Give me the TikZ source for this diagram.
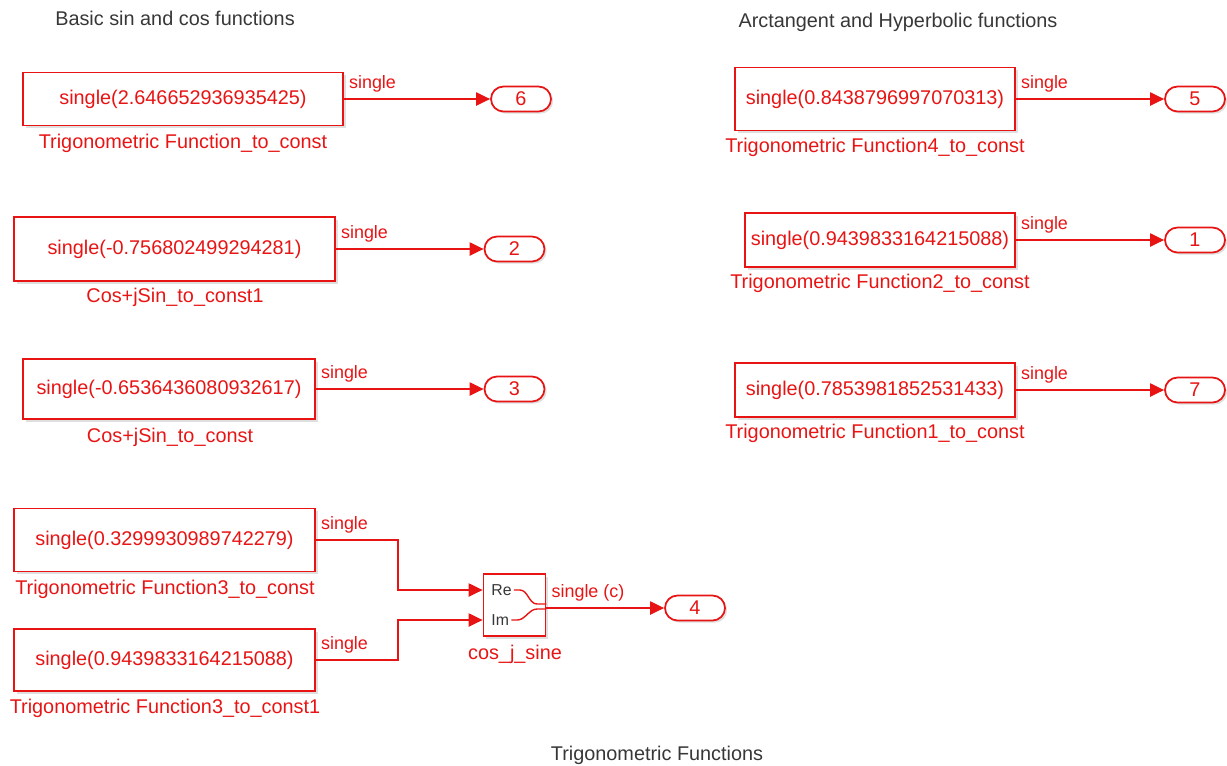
\documentclass[tikz,border=0pt]{standalone}
\usepackage{fontspec}
\setmainfont{Liberation Sans}
\usetikzlibrary{arrows.meta,shapes.misc,shadows}
\definecolor{simred}{RGB}{232,20,20}
\definecolor{titlegray}{RGB}{55,55,55}

\begin{document}
\begin{tikzpicture}[
    x=0.02cm, y=-0.02cm,
    >={Triangle[length=8pt,width=7.5pt]},
    const/.style={
        draw=simred,
        line width=1pt,
        fill=white,
        text=simred,
        inner sep=0pt,
        font=\fontsize{11.3}{13}\selectfont,
        drop shadow={shadow xshift=1.5pt, shadow yshift=-1.5pt, opacity=0.25}
    },
    outport/.style={
        rounded rectangle,
        draw=simred,
        line width=1pt,
        fill=white,
        text=simred,
        minimum width=1.2cm,
        minimum height=0.5cm,
        inner sep=0pt,
        font=\fontsize{11.3}{13}\selectfont,
        drop shadow={shadow xshift=1.2pt, shadow yshift=-1.2pt, opacity=0.25}
    },
    blocklabel/.style={text=simred, inner sep=0pt, font=\fontsize{11.3}{13}\selectfont},
    siglabel/.style={
        anchor=south west,
        text=simred,
        inner sep=0pt,
        xshift=2.5pt,
        yshift=3.5pt,
        font=\fontsize{10.2}{12}\selectfont
    },
    portlabel/.style={text=titlegray, inner sep=0pt, font=\fontsize{9}{11}\selectfont},
    title/.style={text=titlegray, inner sep=0pt, font=\fontsize{11.3}{13}\selectfont},
    sig/.style={->, draw=simred, line width=1pt}
]

\useasboundingbox (0,0) rectangle (1227,765);

\node[title] (t1) at (175,18) {Basic sin and cos functions};
\node[title] (t2) at (898,22) {Arctangent and Hyperbolic functions};
\node[title] (t3) at (657,755) {Trigonometric Functions};

\node[const, minimum width=6.4cm, minimum height=1.06cm] (c1) at (183,99)
    {single(2.646652936935425)};
\node[blocklabel] (l1) at (183,143) {Trigonometric Function\_to\_const};
\node[outport] (p6) at (521,99) {6};

\node[const, minimum width=6.42cm, minimum height=1.28cm] (c2) at (174.5,249)
    {single(-0.756802499294281)};
\node[blocklabel] (l2) at (175,297) {Cos+jSin\_to\_const1};
\node[outport] (p2) at (514.5,249) {2};

\node[const, minimum width=5.84cm, minimum height=1.2cm] (c3) at (169,389)
    {single(-0.6536436080932617)};
\node[blocklabel] (l3) at (170,437) {Cos+jSin\_to\_const};
\node[outport] (p3) at (514.5,389) {3};

\node[const, minimum width=6.02cm, minimum height=1.26cm] (c4) at (164.5,540)
    {single(0.3299930989742279)};
\node[blocklabel] (l4) at (165,589) {Trigonometric Function3\_to\_const};

\node[const, minimum width=6.02cm, minimum height=1.24cm] (c5) at (164.5,660)
    {single(0.9439833164215088)};
\node[blocklabel] (l5) at (165,708) {Trigonometric Function3\_to\_const1};

\node[const, minimum width=1.24cm, minimum height=1.24cm] (cj) at (514.5,605) {};
\node[blocklabel] (lj) at (515,654) {cos\_j\_sine};
\node[portlabel, anchor=west] (tre) at (491,590) {Re};
\node[portlabel, anchor=west] (tim) at (491,620) {Im};
\node[outport] (p4) at (695,608) {4};

\coordinate (bend) at (398,0);
\coordinate (re) at (cj.west |- 0,590);
\coordinate (im) at (cj.west |- 0,620);

\node[const, minimum width=5.6cm, minimum height=1.26cm] (c6) at (875,99)
    {single(0.8438796997070313)};
\node[blocklabel] (l6) at (875,147) {Trigonometric Function4\_to\_const};
\node[outport] (p5) at (1195,99) {5};

\node[const, minimum width=5.4cm, minimum height=1.08cm] (c7) at (880,240)
    {single(0.9439833164215088)};
\node[blocklabel] (l7) at (880,283) {Trigonometric Function2\_to\_const};
\node[outport] (p1) at (1195,240) {1};

\node[const, minimum width=5.6cm, minimum height=1.08cm] (c8) at (875,390)
    {single(0.7853981852531433)};
\node[blocklabel] (l8) at (875,433) {Trigonometric Function1\_to\_const};
\node[outport] (p7) at (1195,390) {7};

\draw[sig] (c1.east) -- node[siglabel, pos=0] (s1) {single} (p6);
\draw[sig] (c2.east) -- node[siglabel, pos=0] (s2) {single} (p2);
\draw[sig] (c3.east) -- node[siglabel, pos=0] (s3) {single} (p3);
\draw[sig] (c4.east) -- node[siglabel, pos=0] (s4) {single} (c4.east -| bend) |- (re);
\draw[sig] (c5.east) -- node[siglabel, pos=0] (s5) {single} (c5.east -| bend) |- (im);
\draw[sig] (cj.east |- p4) -- node[siglabel, pos=0] (sj) {single (c)} (p4);
\draw[sig] (c6.east) -- node[siglabel, pos=0] (s6) {single} (p5);
\draw[sig] (c7.east) -- node[siglabel, pos=0] (s7) {single} (p1);
\draw[sig] (c8.east) -- node[siglabel, pos=0] (s8) {single} (p7);

\draw[simred, line width=0.8pt] (tre.east) ++(2,0) -- ++(6,0)
    .. controls ++(8,0) and ++(-8,0) .. (537,604) -- (cj.east |- 0,604);
\draw[simred, line width=0.8pt] (tim.east) ++(2,0) -- ++(6,0)
    .. controls ++(8,0) and ++(-8,0) .. (537,609) -- (cj.east |- 0,609);

\end{tikzpicture}
\end{document}
